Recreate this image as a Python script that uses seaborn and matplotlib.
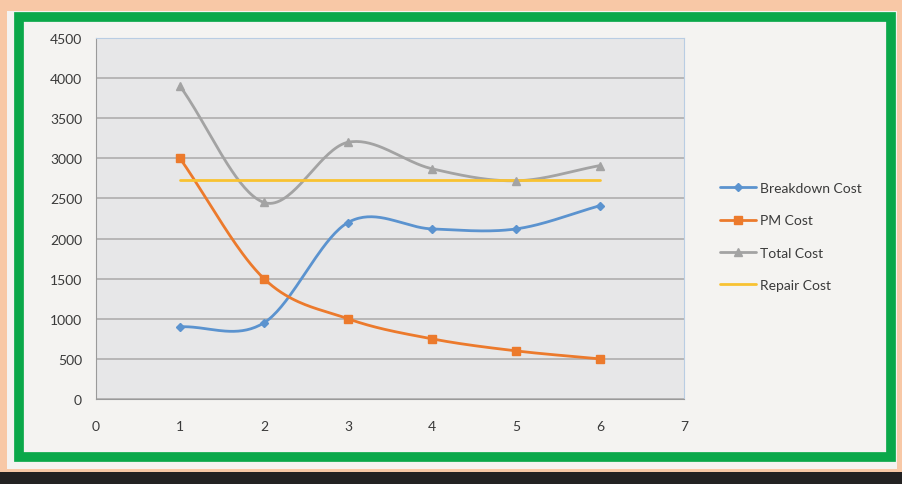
"""Breakdown vs PM cost chart, Excel style with a green frame."""

import matplotlib
matplotlib.use("Agg")
import matplotlib.pyplot as plt
from matplotlib.patches import Rectangle
import numpy as np
import pandas as pd
import seaborn as sns

# data
periods = [1, 2, 3, 4, 5, 6]
breakdown_cost = [900, 950, 2200, 2120, 2120, 2410]
pm_cost = [3000, 1500, 1000, 750, 600, 500]
total_cost = [3900, 2450, 3200, 2870, 2720, 2910]
repair_cost = [2730, 2730, 2730, 2730, 2730, 2730]

x_ticks = [0, 1, 2, 3, 4, 5, 6, 7]
y_ticks = [0, 500, 1000, 1500, 2000, 2500, 3000, 3500, 4000, 4500]


def smooth(xs, ys, n=40):
    # Catmull-Rom curve through the points, like Excel's "smoothed line"
    xs = np.asarray(xs, float)
    ys = np.asarray(ys, float)
    px = np.concatenate([[2 * xs[0] - xs[1]], xs, [2 * xs[-1] - xs[-2]]])
    py = np.concatenate([[2 * ys[0] - ys[1]], ys, [2 * ys[-1] - ys[-2]]])
    out_x, out_y = [], []
    t = np.linspace(0, 1, n)
    for i in range(1, len(px) - 2):
        for p, out in ((px, out_x), (py, out_y)):
            p0, p1, p2, p3 = p[i - 1], p[i], p[i + 1], p[i + 2]
            out.extend(0.5 * (2 * p1 + (-p0 + p2) * t
                              + (2 * p0 - 5 * p1 + 4 * p2 - p3) * t ** 2
                              + (-p0 + 3 * p1 - 3 * p2 + p3) * t ** 3))
    return out_x, out_y


series = [
    ("Breakdown Cost", breakdown_cost, "#5b93cf", "D", 4),
    ("PM Cost", pm_cost, "#ec7a2c", "s", 6),
    ("Total Cost", total_cost, "#a3a3a3", "^", 6),
    ("Repair Cost", repair_cost, "#f8c232", None, 0),
]

sns.set_style("white")
plt.rcParams["font.family"] = ["Lato", "DejaVu Sans"]

fig = plt.figure(figsize=(9.02, 4.85), dpi=100)
fig.patch.set_facecolor("#f8c8a6")

# panel, green frame and dark band at the bottom
fig.patches.append(Rectangle((7 / 902, 15 / 485), 890 / 902, 458 / 485,
                             transform=fig.transFigure, facecolor="#f4f3f1",
                             edgecolor="none", zorder=0))
fig.patches.append(Rectangle((19 / 902, 27 / 485), 872 / 902, 440 / 485,
                             transform=fig.transFigure, facecolor="none",
                             edgecolor="#0aa84a", linewidth=7, zorder=1))
fig.patches.append(Rectangle((0, 0), 1, 12 / 485,
                             transform=fig.transFigure, facecolor="#232222",
                             edgecolor="none", zorder=1))

ax = fig.add_axes([96 / 902, 85 / 485, 588 / 902, 361 / 485])
ax.set_zorder(5)
ax.set_facecolor("#e7e7e8")

for name, vals, color, marker, msize in series:
    sx, sy = smooth(periods, vals)
    line = pd.DataFrame({"x": sx, "y": sy})
    sns.lineplot(data=line, x="x", y="y", ax=ax, color=color, linewidth=2,
                 sort=False, estimator=None, zorder=3)
    ax.plot(periods, vals, linestyle="none", marker=marker, markersize=msize,
            color=color, zorder=4)
    # legend proxy
    ax.plot([], [], color=color, linewidth=2, marker=marker, markersize=msize,
            label=name)

ax.set_xlim(0, 7)
ax.set_ylim(0, 4500)
ax.set_xticks(x_ticks)
ax.set_yticks(y_ticks)
ax.set_xlabel("")
ax.set_ylabel("")
ax.grid(axis="y", color="#b4b2b2", linewidth=1.3)
ax.set_axisbelow(True)

ax.spines["left"].set_color("#9a9a9a")
ax.spines["bottom"].set_color("#9a9a9a")
ax.spines["top"].set_color("#b9cde3")
ax.spines["right"].set_color("#b9cde3")
ax.tick_params(axis="both", labelsize=10, colors="#9a9a9a", labelcolor="#3a3a3a",
               length=4, direction="out")
ax.tick_params(axis="x", pad=11)
ax.tick_params(axis="y", pad=6)

ax.legend(loc="center left", bbox_to_anchor=(1.04, 0.45), frameon=False,
          fontsize=10, handlelength=2.6, labelspacing=1.45, handletextpad=0.3,
          labelcolor="#3a3a3a")

fig.savefig("out.png", dpi=100, facecolor=fig.get_facecolor())
plt.close(fig)
